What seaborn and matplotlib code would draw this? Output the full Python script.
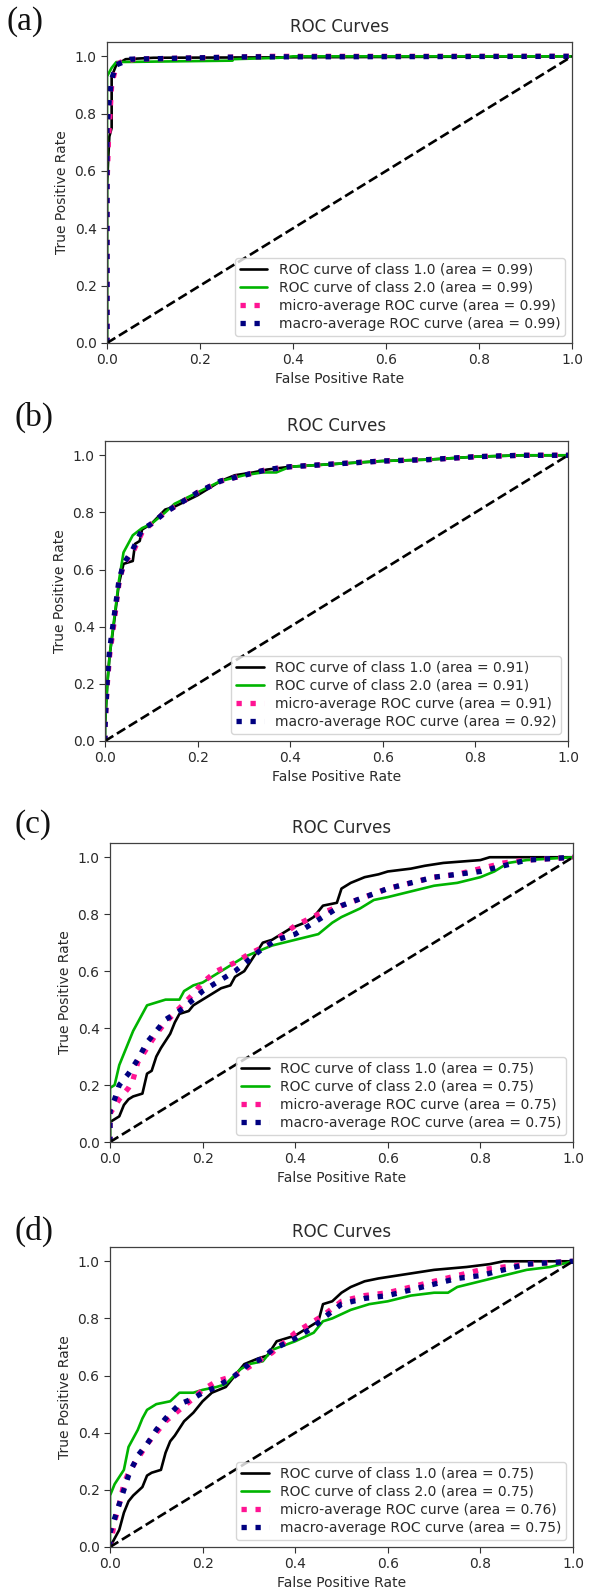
import numpy as np
import pandas as pd
import matplotlib
matplotlib.use("Agg")
import matplotlib.pyplot as plt
import seaborn as sns

# ---------------- data ----------------
panel_labels = ["(a)", "(b)", "(c)", "(d)"]
series_names = ["ROC curve of class 1.0", "ROC curve of class 2.0",
                "micro-average ROC curve", "macro-average ROC curve"]
areas = [
    ["0.99", "0.99", "0.99", "0.99"],
    ["0.91", "0.91", "0.91", "0.92"],
    ["0.75", "0.75", "0.75", "0.75"],
    ["0.75", "0.75", "0.76", "0.75"],
]
diag_x = [0.0, 1.0]
diag_y = [0.0, 1.0]
ticks = [0.0, 0.2, 0.4, 0.6, 0.8, 1.0]

# panel (a)
a_c1_x = [0, 0, 0.005, 0.01, 0.01, 0.015, 0.02, 0.04, 0.1, 1.0]
a_c1_y = [0, 0.55, 0.72, 0.75, 0.93, 0.95, 0.97, 0.99, 0.995, 1.0]
a_c2_x = [0, 0, 0.01, 0.02, 0.27, 0.27, 0.37, 0.40, 1.0]
a_c2_y = [0, 0.93, 0.96, 0.98, 0.985, 0.99, 0.995, 1.0, 1.0]
a_mi_x = [0, 0, 0.003, 0.01, 0.02, 0.03, 0.06, 0.35, 1.0]
a_mi_y = [0, 0.55, 0.70, 0.90, 0.97, 0.98, 0.99, 1.0, 1.0]
a_ma_x = [0, 0, 0.005, 0.01, 0.02, 0.05, 0.30, 1.0]
a_ma_y = [0, 0.75, 0.85, 0.92, 0.97, 0.99, 0.998, 1.0]

# panel (b)
b_c1_x = [0, 0, 0.005, 0.01, 0.02, 0.03, 0.04, 0.06, 0.065, 0.075, 0.08, 0.10, 0.13, 0.15,
          0.20, 0.25, 0.28, 0.32, 0.35, 0.40, 0.50, 0.60, 0.70, 0.80, 0.90, 1.0]
b_c1_y = [0, 0.05, 0.20, 0.30, 0.42, 0.55, 0.62, 0.63, 0.69, 0.70, 0.74, 0.76, 0.81, 0.82,
          0.86, 0.91, 0.93, 0.94, 0.95, 0.96, 0.97, 0.98, 0.985, 0.995, 1.0, 1.0]
b_c2_x = [0, 0, 0.005, 0.01, 0.02, 0.03, 0.04, 0.06, 0.08, 0.10, 0.13, 0.15, 0.20, 0.25,
          0.30, 0.34, 0.37, 0.40, 0.50, 0.60, 0.70, 0.80, 0.90, 1.0]
b_c2_y = [0, 0.06, 0.20, 0.30, 0.43, 0.56, 0.66, 0.72, 0.745, 0.76, 0.80, 0.83, 0.87, 0.91,
          0.93, 0.94, 0.94, 0.96, 0.97, 0.98, 0.985, 0.995, 1.0, 1.0]
b_mi_x = [0, 0, 0.005, 0.01, 0.02, 0.03, 0.04, 0.06, 0.08, 0.10, 0.13, 0.15, 0.20, 0.25,
          0.30, 0.35, 0.40, 0.50, 0.60, 0.70, 0.80, 0.90, 1.0]
b_mi_y = [0, 0.05, 0.20, 0.30, 0.42, 0.55, 0.62, 0.66, 0.73, 0.76, 0.80, 0.82, 0.87, 0.91,
          0.93, 0.95, 0.96, 0.97, 0.98, 0.985, 0.995, 1.0, 1.0]
b_ma_x = [0, 0, 0.005, 0.01, 0.02, 0.03, 0.04, 0.06, 0.08, 0.10, 0.13, 0.15, 0.20, 0.25,
          0.30, 0.35, 0.40, 0.50, 0.60, 0.70, 0.80, 0.90, 1.0]
b_ma_y = [0, 0.05, 0.22, 0.32, 0.44, 0.56, 0.62, 0.67, 0.74, 0.76, 0.80, 0.82, 0.87, 0.91,
          0.93, 0.95, 0.96, 0.97, 0.98, 0.985, 0.995, 1.0, 1.0]

# panel (c)
c_c1_x = [0, 0, 0.01, 0.02, 0.03, 0.04, 0.05, 0.07, 0.08, 0.09, 0.10, 0.11, 0.13, 0.14, 0.15,
          0.17, 0.18, 0.20, 0.22, 0.24, 0.26, 0.27, 0.29, 0.31, 0.33, 0.35, 0.37, 0.39, 0.42,
          0.44, 0.46, 0.49, 0.50, 0.52, 0.55, 0.58, 0.60, 0.65, 0.68, 0.72, 0.80, 0.82, 1.0]
c_c1_y = [0, 0.07, 0.08, 0.09, 0.13, 0.15, 0.16, 0.17, 0.24, 0.25, 0.30, 0.33, 0.38, 0.42, 0.45,
          0.46, 0.48, 0.50, 0.52, 0.54, 0.55, 0.58, 0.60, 0.65, 0.70, 0.71, 0.73, 0.75, 0.77,
          0.79, 0.83, 0.84, 0.89, 0.91, 0.93, 0.94, 0.95, 0.96, 0.97, 0.98, 0.99, 1.0, 1.0]
c_c2_x = [0, 0, 0.01, 0.02, 0.03, 0.04, 0.05, 0.06, 0.07, 0.08, 0.10, 0.12, 0.15, 0.16, 0.18,
          0.20, 0.23, 0.26, 0.29, 0.32, 0.35, 0.40, 0.45, 0.48, 0.50, 0.54, 0.57, 0.60, 0.65,
          0.70, 0.75, 0.80, 0.83, 0.86, 0.90, 1.0]
c_c2_y = [0, 0.19, 0.20, 0.27, 0.31, 0.35, 0.39, 0.42, 0.45, 0.48, 0.49, 0.50, 0.50, 0.53, 0.55,
          0.56, 0.59, 0.62, 0.65, 0.67, 0.69, 0.71, 0.73, 0.77, 0.79, 0.82, 0.85, 0.86, 0.88,
          0.90, 0.91, 0.93, 0.95, 0.98, 0.99, 1.0]
c_mi_x = [0, 0, 0.02, 0.04, 0.05, 0.06, 0.08, 0.10, 0.12, 0.15, 0.18, 0.20, 0.23, 0.27, 0.30,
          0.35, 0.40, 0.45, 0.50, 0.55, 0.60, 0.65, 0.70, 0.75, 0.80, 0.85, 0.90, 1.0]
c_mi_y = [0, 0.10, 0.15, 0.19, 0.22, 0.28, 0.33, 0.38, 0.42, 0.47, 0.52, 0.56, 0.60, 0.63, 0.66,
          0.70, 0.76, 0.80, 0.83, 0.86, 0.89, 0.91, 0.93, 0.94, 0.96, 0.98, 0.99, 1.0]
c_ma_x = [0, 0, 0.01, 0.02, 0.04, 0.06, 0.08, 0.10, 0.12, 0.15, 0.18, 0.20, 0.23, 0.27, 0.30,
          0.33, 0.36, 0.40, 0.45, 0.50, 0.55, 0.60, 0.65, 0.70, 0.75, 0.80, 0.85, 0.90, 1.0]
c_ma_y = [0, 0.11, 0.15, 0.20, 0.24, 0.29, 0.35, 0.39, 0.43, 0.46, 0.50, 0.53, 0.56, 0.60, 0.64,
          0.68, 0.71, 0.73, 0.78, 0.83, 0.86, 0.89, 0.91, 0.93, 0.94, 0.95, 0.97, 0.99, 1.0]

# panel (d)
d_c1_x = [0, 0.01, 0.02, 0.03, 0.04, 0.05, 0.07, 0.08, 0.09, 0.11, 0.12, 0.13, 0.14, 0.16, 0.18,
          0.20, 0.22, 0.25, 0.27, 0.29, 0.32, 0.34, 0.36, 0.38, 0.40, 0.43, 0.45, 0.46, 0.48,
          0.50, 0.52, 0.55, 0.58, 0.62, 0.66, 0.70, 0.77, 0.82, 0.85, 1.0]
d_c1_y = [0, 0.03, 0.06, 0.12, 0.16, 0.18, 0.21, 0.25, 0.26, 0.27, 0.33, 0.37, 0.39, 0.44, 0.47,
          0.51, 0.54, 0.56, 0.60, 0.64, 0.66, 0.67, 0.72, 0.73, 0.74, 0.77, 0.79, 0.85, 0.86,
          0.89, 0.91, 0.93, 0.94, 0.95, 0.96, 0.97, 0.98, 0.99, 1.0, 1.0]
d_c2_x = [0, 0, 0.01, 0.03, 0.04, 0.05, 0.06, 0.07, 0.08, 0.10, 0.13, 0.15, 0.18, 0.20, 0.23,
          0.25, 0.28, 0.30, 0.33, 0.35, 0.40, 0.44, 0.46, 0.48, 0.52, 0.56, 0.60, 0.65, 0.70,
          0.73, 0.75, 0.80, 0.85, 0.90, 0.95, 1.0]
d_c2_y = [0, 0.18, 0.22, 0.27, 0.35, 0.38, 0.41, 0.45, 0.48, 0.50, 0.51, 0.54, 0.54, 0.55, 0.56,
          0.57, 0.62, 0.64, 0.65, 0.69, 0.72, 0.75, 0.79, 0.80, 0.83, 0.85, 0.86, 0.88, 0.89,
          0.89, 0.91, 0.93, 0.95, 0.97, 0.98, 1.0]
d_mi_x = [0, 0.01, 0.02, 0.03, 0.04, 0.06, 0.08, 0.10, 0.12, 0.15, 0.18, 0.20, 0.23, 0.27, 0.30,
          0.35, 0.40, 0.43, 0.46, 0.50, 0.55, 0.60, 0.65, 0.70, 0.75, 0.80, 0.85, 0.90, 1.0]
d_mi_y = [0, 0.09, 0.15, 0.22, 0.26, 0.31, 0.36, 0.40, 0.44, 0.48, 0.52, 0.55, 0.58, 0.60, 0.63,
          0.68, 0.75, 0.78, 0.81, 0.86, 0.88, 0.89, 0.91, 0.93, 0.95, 0.97, 0.98, 0.99, 1.0]
d_ma_x = [0, 0, 0.01, 0.02, 0.03, 0.04, 0.06, 0.08, 0.10, 0.12, 0.15, 0.18, 0.20, 0.23, 0.27,
          0.30, 0.33, 0.35, 0.40, 0.44, 0.46, 0.50, 0.55, 0.60, 0.65, 0.70, 0.75, 0.80, 0.85,
          0.90, 1.0]
d_ma_y = [0, 0.05, 0.10, 0.15, 0.20, 0.25, 0.32, 0.36, 0.41, 0.45, 0.50, 0.52, 0.54, 0.56, 0.60,
          0.64, 0.66, 0.69, 0.73, 0.77, 0.80, 0.85, 0.87, 0.88, 0.90, 0.92, 0.94, 0.95, 0.97,
          0.99, 1.0]

panels = [
    [(a_c1_x, a_c1_y), (a_c2_x, a_c2_y), (a_mi_x, a_mi_y), (a_ma_x, a_ma_y)],
    [(b_c1_x, b_c1_y), (b_c2_x, b_c2_y), (b_mi_x, b_mi_y), (b_ma_x, b_ma_y)],
    [(c_c1_x, c_c1_y), (c_c2_x, c_c2_y), (c_mi_x, c_mi_y), (c_ma_x, c_ma_y)],
    [(d_c1_x, d_c1_y), (d_c2_x, d_c2_y), (d_mi_x, d_mi_y), (d_ma_x, d_ma_y)],
]

# ---------------- style ----------------
sns.set_style("ticks")
plt.rcParams["font.family"] = ["DejaVu Sans"]

W, H = 593, 1590
fig = plt.figure(figsize=(W / 100, H / 100), dpi=100)

# axes boxes in pixels: left, right, top, bottom
boxes = [(107, 572, 42, 343), (105, 568, 441, 741), (110, 573, 843, 1142), (110, 573, 1247, 1547)]
label_pos = [(7, 22), (14, 417), (15, 825), (14, 1231)]

colors = ["#000000", "#00b400", "deeppink", "navy"]
styles = ["-", "-", ":", ":"]
widths = [1.9, 1.9, 3.8, 3.8]

for i, (l, r, t, b) in enumerate(boxes):
    ax = fig.add_axes([l / W, 1 - b / H, (r - l) / W, (b - t) / H])
    for j, (xs, ys) in enumerate(panels[i]):
        df = pd.DataFrame({"fpr": xs, "tpr": ys})
        sns.lineplot(data=df, x="fpr", y="tpr", ax=ax, sort=False, estimator=None,
                     color=colors[j], linestyle=styles[j], linewidth=widths[j],
                     label=f"{series_names[j]} (area = {areas[i][j]})")
    sns.lineplot(x=diag_x, y=diag_y, ax=ax, color="k", linestyle="--", linewidth=1.9)
    ax.set_xlim(0, 1)
    ax.set_ylim(0, 1.05)
    ax.set_xticks(ticks)
    ax.set_yticks(ticks)
    ax.set_xticklabels([f"{v:.1f}" for v in ticks])
    ax.set_yticklabels([f"{v:.1f}" for v in ticks])
    ax.tick_params(labelsize=10, colors="#333333", labelcolor="#2a2a2a", length=4, width=0.8)
    for s in ax.spines.values():
        s.set_color("#404040")
        s.set_linewidth(0.9)
    ax.set_xlabel("False Positive Rate", fontsize=10, color="#2a2a2a", labelpad=3)
    ax.set_ylabel("True Positive Rate", fontsize=10, color="#2a2a2a", labelpad=4)
    ax.set_title("ROC Curves", fontsize=12, color="#2a2a2a", pad=7)
    leg = ax.legend(loc="lower right", fontsize=10, labelspacing=0.3, borderpad=0.35,
                    handlelength=2.0, fancybox=True, framealpha=0.8, edgecolor="#cccccc")
    for txt in leg.get_texts():
        txt.set_color("#2a2a2a")
    fig.text(label_pos[i][0] / W, 1 - label_pos[i][1] / H, panel_labels[i],
             family=["Liberation Serif", "DejaVu Serif"], fontsize=24, va="center", ha="left",
             color="#111111")

fig.savefig("out.png", dpi=100)
